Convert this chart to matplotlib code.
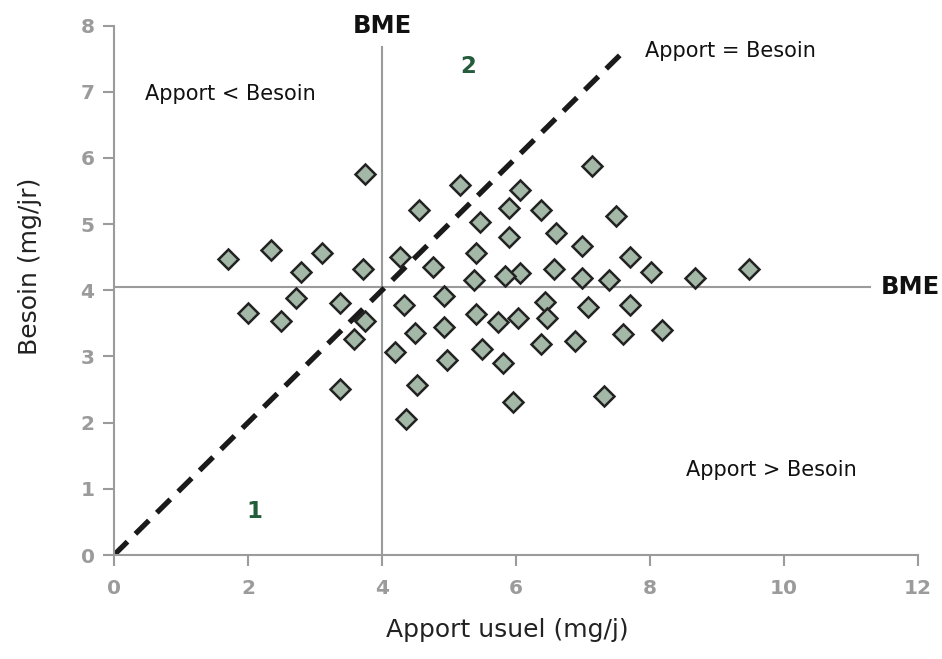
import matplotlib
matplotlib.use('Agg')
import matplotlib.pyplot as plt
import numpy as np

# Data
apport = [1.70, 2.34, 3.11, 2.79, 3.71, 3.74, 4.27, 4.55, 4.76, 2.71, 3.37, 2.00, 2.49,
          3.74, 3.58, 4.33, 4.92, 4.50, 4.92, 4.19, 4.97, 3.37, 4.53, 4.36,
          7.14, 5.17, 6.06, 5.89, 6.37, 7.50, 5.46, 6.60, 5.89, 6.99, 5.41, 7.70,
          6.57, 6.06, 5.83, 5.37, 6.99, 7.39, 8.02, 6.43, 7.08, 7.70, 5.40, 5.73,
          6.03, 6.46, 6.88, 7.59, 6.37, 5.49, 5.80, 7.31, 5.96, 8.67, 9.48, 8.18]
besoin = [4.47, 4.61, 4.57, 4.27, 4.32, 5.76, 4.50, 5.21, 4.35, 3.89, 3.80, 3.66, 3.54,
          3.53, 3.26, 3.78, 3.92, 3.35, 3.44, 3.06, 2.95, 2.51, 2.57, 2.06,
          5.87, 5.59, 5.52, 5.24, 5.21, 5.12, 5.03, 4.86, 4.81, 4.67, 4.57, 4.50,
          4.32, 4.26, 4.21, 4.15, 4.18, 4.15, 4.27, 3.83, 3.74, 3.78, 3.64, 3.52,
          3.58, 3.58, 3.23, 3.34, 3.19, 3.11, 2.90, 2.40, 2.31, 4.18, 4.32, 3.40]
bme_x = 4.0
bme_y = 4.05
egal_max = 7.62
x_ticks = [0, 2, 4, 6, 8, 10, 12]
y_ticks = [0, 1, 2, 3, 4, 5, 6, 7, 8]

gray = '#9b9b9b'
green = '#245c3c'

fig = plt.figure(figsize=(9.42, 6.59), dpi=100)
ax = fig.add_axes([0.121, 0.1578, 0.8535, 0.8035])

# BME reference lines
ax.plot([bme_x, bme_x], [0, 7.68], color=gray, lw=1.5, zorder=1)
ax.plot([0, 11.28], [bme_y, bme_y], color=gray, lw=1.5, zorder=1)

ax.plot(apport, besoin, linestyle='none', marker='D', ms=10.3, mfc='#a3b8a6',
        mec='#222222', mew=1.8, zorder=3)

# Apport = Besoin
ax.plot([0, egal_max], [0, egal_max], color='#1a1a1a', lw=3.8,
        dashes=(3.6, 2.1), zorder=2)

ax.set_xlim(0, 12)
ax.set_ylim(0, 8)
ax.set_xticks(x_ticks)
ax.set_yticks(y_ticks)
for s in ['top', 'right']:
    ax.spines[s].set_visible(False)
for s in ['left', 'bottom']:
    ax.spines[s].set_color(gray)
    ax.spines[s].set_linewidth(1.5)
ax.tick_params(colors=gray, width=1.5, length=8, labelsize=14.5)
ax.tick_params(axis='x', pad=9)
ax.tick_params(axis='y', pad=6)
for lab in ax.get_xticklabels() + ax.get_yticklabels():
    lab.set_fontweight('bold')

ax.set_xlabel('Apport usuel (mg/j)', fontsize=18, color='#222222')
ax.set_ylabel('Besoin (mg/jr)', fontsize=18, color='#222222')
ax.xaxis.label.set_va('center')
ax.yaxis.label.set_va('center')
ax.xaxis.set_label_coords(0.489, -0.141)
ax.yaxis.set_label_coords(-0.1045, 0.545)

ax.text(bme_x, 8.0, 'BME', ha='center', va='center', fontsize=17.5,
        fontweight='bold', color='#111111', clip_on=False)
ax.text(11.45, bme_y, 'BME', ha='left', va='center', fontsize=17.5,
        fontweight='bold', color='#111111', clip_on=False)
ax.text(0.46, 6.97, 'Apport < Besoin', fontsize=15, color='#111111', va='center')
ax.text(7.93, 7.62, 'Apport = Besoin', fontsize=15, color='#111111', va='center')
ax.text(8.54, 1.28, 'Apport > Besoin', fontsize=15, color='#111111', va='center')
ax.text(5.28, 7.38, '2', fontsize=16.5, fontweight='bold', color=green,
        ha='center', va='center')
ax.text(2.09, 0.66, '1', fontsize=16.5, fontweight='bold', color=green,
        ha='center', va='center')

fig.savefig('out.png', dpi=100, facecolor='white')
